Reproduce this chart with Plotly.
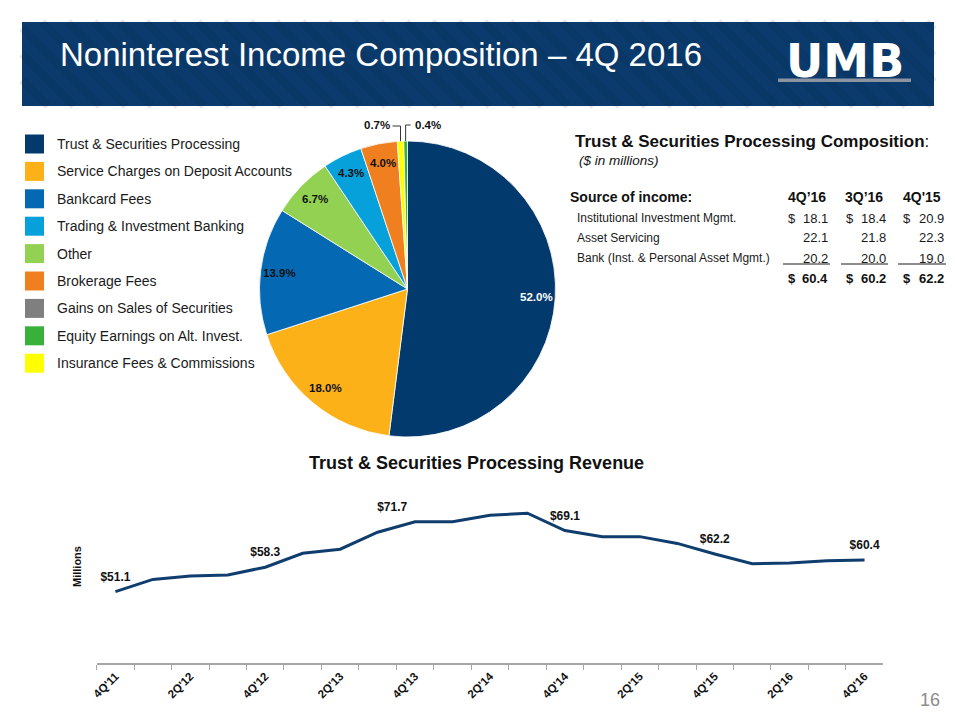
import math
import plotly.graph_objects as go

# ---------------- data ----------------
legend_labels = [
    "Trust & Securities Processing",
    "Service Charges on Deposit Accounts",
    "Bankcard Fees",
    "Trading & Investment Banking",
    "Other",
    "Brokerage Fees",
    "Gains on Sales of Securities",
    "Equity Earnings on Alt. Invest.",
    "Insurance Fees & Commissions",
]
legend_colors = [
    "#023A6E", "#FBB117", "#0568B3", "#06A0DA", "#93D152",
    "#F07F1F", "#7F7F7F", "#38B13A", "#FFFF00",
]

# pie slices in clockwise order starting at 12 o'clock
pie_labels = [
    "Trust & Securities Processing",
    "Service Charges on Deposit Accounts",
    "Bankcard Fees",
    "Other",
    "Trading & Investment Banking",
    "Brokerage Fees",
    "Insurance Fees & Commissions",
    "Equity Earnings on Alt. Invest.",
]
pie_values = [52.0, 18.0, 13.9, 6.7, 4.3, 4.0, 0.7, 0.4]

quarters = [
    "4Q'11", "1Q'12", "2Q'12", "3Q'12", "4Q'12", "1Q'13", "2Q'13", "3Q'13",
    "4Q'13", "1Q'14", "2Q'14", "3Q'14", "4Q'14", "1Q'15", "2Q'15", "3Q'15",
    "4Q'15", "1Q'16", "2Q'16", "3Q'16", "4Q'16",
]
revenue = [
    51.1, 54.7, 55.7, 56.0, 58.3, 62.4, 63.6, 68.6,
    71.7, 71.7, 73.6, 74.2, 69.1, 67.3, 67.3, 65.3,
    62.2, 59.3, 59.5, 60.2, 60.4,
]

table_columns = ["4Q\u201916", "3Q\u201916", "4Q'15"]
table_rows = [
    "Institutional Investment Mgmt.",
    "Asset Servicing",
    "Bank (Inst. & Personal Asset Mgmt.)",
]
col_4q16 = [18.1, 22.1, 20.2]
col_3q16 = [18.4, 21.8, 20.0]
col_4q15 = [20.9, 22.3, 19.0]
table_totals = [60.4, 60.2, 62.2]

# ---------------- helpers ----------------
W, H = 960, 720
FONT = "Liberation Sans, Arial, sans-serif"


def px(x):
    return x / W


def py(y):
    return 1 - y / H


annotations = []
shapes = []


def text(x, y, s, size=12, color="#111111", xanchor="center", yanchor="middle",
         bold=False, italic=False, family=FONT, angle=0):
    if bold:
        s = "<b>" + s + "</b>"
    if italic:
        s = "<i>" + s + "</i>"
    annotations.append(dict(
        x=px(x), y=py(y), xref="paper", yref="paper", text=s, showarrow=False,
        xanchor=xanchor, yanchor=yanchor, textangle=angle,
        font=dict(size=size, color=color, family=family),
    ))


def line(x0, y0, x1, y1, color, width=1.0):
    shapes.append(dict(type="line", xref="paper", yref="paper",
                       x0=px(x0), y0=py(y0), x1=px(x1), y1=py(y1),
                       line=dict(color=color, width=width)))


def rect(x0, y0, x1, y1, color):
    shapes.append(dict(type="rect", xref="paper", yref="paper",
                       x0=px(x0), y0=py(y0), x1=px(x1), y1=py(y1),
                       fillcolor=color, line=dict(width=0), layer="below"))


# ---------------- header banner ----------------
BX0, BY0, BX1, BY1 = 22, 22, 934, 106
rect(BX0, BY0, BX1, BY1, "#0B3B6C")
# faint diagonal stripes
hgt = BY1 - BY0
s = BX0 - hgt
while s < BX1:
    xa, ya = s, BY0
    xb, yb = s + hgt, BY1
    if xa < BX0:
        ya = BY0 + (BX0 - xa)
        xa = BX0
    if xb > BX1:
        yb = BY1 - (xb - BX1)
        xb = BX1
    if xb > xa:
        shapes.append(dict(type="line", xref="paper", yref="paper",
                           x0=px(xa), y0=py(ya), x1=px(xb), y1=py(yb),
                           line=dict(color="rgba(0,20,50,0.10)", width=8),
                           layer="below"))
    s += 26
text(58, 55, "Noninterest Income Composition \u2013 4Q 2016", size=33,
     color="white", xanchor="left")
annotations.append(dict(
    x=px(845), y=py(61), xref="paper", yref="paper", text="<b>UMB</b>",
    showarrow=False, xanchor="center", yanchor="middle",
    font=dict(size=46, color="white", family="DejaVu Sans, sans-serif")))
rect(778, 78.5, 911, 82, "#8C94A2")

# ---------------- legend ----------------
for i, (lab, col) in enumerate(zip(legend_labels, legend_colors)):
    yc = 144 + i * 27.4
    rect(25, yc - 9.5, 44, yc + 9.5, col)
    text(55, yc, lab, size=14, color="#1A1A1A", xanchor="left")

# ---------------- pie ----------------
CX, CY, R = 407.5, 289.0, 148.0
pie_colors = [legend_colors[legend_labels.index(l)] for l in pie_labels]
fig = go.Figure()
fig.add_trace(go.Pie(
    labels=pie_labels, values=pie_values, sort=False, direction="clockwise",
    rotation=0, marker=dict(colors=pie_colors, line=dict(color="white", width=0.8)),
    textinfo="none", hoverinfo="label+percent", showlegend=False,
    domain=dict(x=[px(CX - R), px(CX + R)], y=[py(CY + R), py(CY - R)]),
))

total = sum(pie_values)
cum = 0.0
small_side = 0
for lab, v in zip(pie_labels, pie_values):
    mid = (cum + v / 2) / total * 2 * math.pi
    cum += v
    lbl = f"{v:.1f}%"
    col = "white" if lab == pie_labels[0] else "#111111"
    if v >= 2:
        r = 0.87 * R
        text(CX + r * math.sin(mid), CY - r * math.cos(mid), lbl, size=11.5,
             color=col, bold=True)
    else:
        ex, ey = CX + R * math.sin(mid), CY - R * math.cos(mid)
        ly = 125
        if small_side == 0:
            line(ex, ey, ex, ly + 1, "#333333", 1)
            line(ex, ly + 1, ex - 8, ly + 1, "#333333", 1)
            text(ex - 9, ly, lbl, size=11.5, bold=True, xanchor="right")
        else:
            line(ex, ey, ex, ly, "#333333", 1)
            line(ex, ly, ex + 5, ly, "#333333", 1)
            text(ex + 7, ly, lbl, size=11.5, bold=True, xanchor="left")
        small_side += 1

# ---------------- composition table ----------------
text(573, 142, "<b>Trust & Securities Processing Composition</b>:", size=17,
     color="#111111", xanchor="left")
text(577, 160, "($ in millions)", size=13.5, italic=True, color="#111111",
     xanchor="left")
text(568, 197, "Source of income:", size=14, bold=True, xanchor="left")
col_right = [830, 888, 946]
col_dollar = [786, 844, 901]
col_center = [807, 864, 922]
for c, name in enumerate(table_columns):
    text(col_center[c], 197, name, size=14, bold=True)
row_y = [218, 238, 258]
cols = [col_4q16, col_3q16, col_4q15]
for r_i, rname in enumerate(table_rows):
    text(575, row_y[r_i], rname, size=12, color="#1A1A1A", xanchor="left")
    for c in range(3):
        text(col_right[c], row_y[r_i], f"{cols[c][r_i]:.1f}", size=13,
             color="#1A1A1A", xanchor="right")
        if r_i == 0:
            text(col_dollar[c], row_y[r_i], "$", size=13, color="#1A1A1A",
                 xanchor="left")
for c in range(3):
    line(col_dollar[c] - 3, 264, col_right[c], 264, "#1A1A1A", 1)
    text(col_right[c], 278, f"{table_totals[c]:.1f}", size=13, bold=True,
         xanchor="right")
    text(col_dollar[c], 278, "$", size=13, bold=True, xanchor="left")

# ---------------- revenue line chart ----------------
text(476, 463, "Trust & Securities Processing Revenue", size=18, bold=True)
text(77, 567, "Millions", size=11, bold=True, angle=-90)

labels_txt = [f"${v:.1f}" if q.startswith("4Q") else "" for q, v in zip(quarters, revenue)]
txt_pos = ["top center"] * len(quarters)
txt_pos[quarters.index("4Q'13")] = "top left"
fig.add_trace(go.Scatter(
    x=quarters, y=revenue, mode="lines+markers+text", text=labels_txt,
    textposition=txt_pos, textfont=dict(size=12, color="#111111", family=FONT,
                                        weight="bold"),
    marker=dict(size=11, opacity=0, color="#0F3E6E"),
    line=dict(color="#0F3E6E", width=3), showlegend=False,
    hovertemplate="%{x}: $%{y:.1f}<extra></extra>",
    cliponaxis=False,
))

text(930, 700, "16", size=18, color="#8C8C8C")

fig.update_layout(
    width=W, height=H, margin=dict(l=0, r=0, t=0, b=0),
    paper_bgcolor="white", plot_bgcolor="white",
    template="none",
    font=dict(family=FONT, color="#111111"),
    shapes=shapes, annotations=annotations,
    xaxis=dict(
        domain=[px(96.7), px(883.3)], type="category",
        categoryorder="array", categoryarray=quarters,
        range=[-0.5, len(quarters) - 0.5],
        tickmode="array", tickvals=quarters,
        ticktext=[q if i % 2 == 0 else "" for i, q in enumerate(quarters)],
        tickson="boundaries", ticks="outside", ticklen=5, tickcolor="#A6A6A6",
        showline=True, linecolor="#A6A6A6", linewidth=1.5,
        tickangle=-45, tickfont=dict(size=11.5, color="#111111", family=FONT,
                                     weight="bold"),
        showgrid=False, zeroline=False, fixedrange=True,
    ),
    yaxis=dict(
        domain=[py(663.3), py(493.5)], range=[30, 80], visible=False,
        showgrid=False, zeroline=False, fixedrange=True,
    ),
)

fig.write_html("out.html", post_script="document.body.style.margin='0';",
               config={"displayModeBar": False})
